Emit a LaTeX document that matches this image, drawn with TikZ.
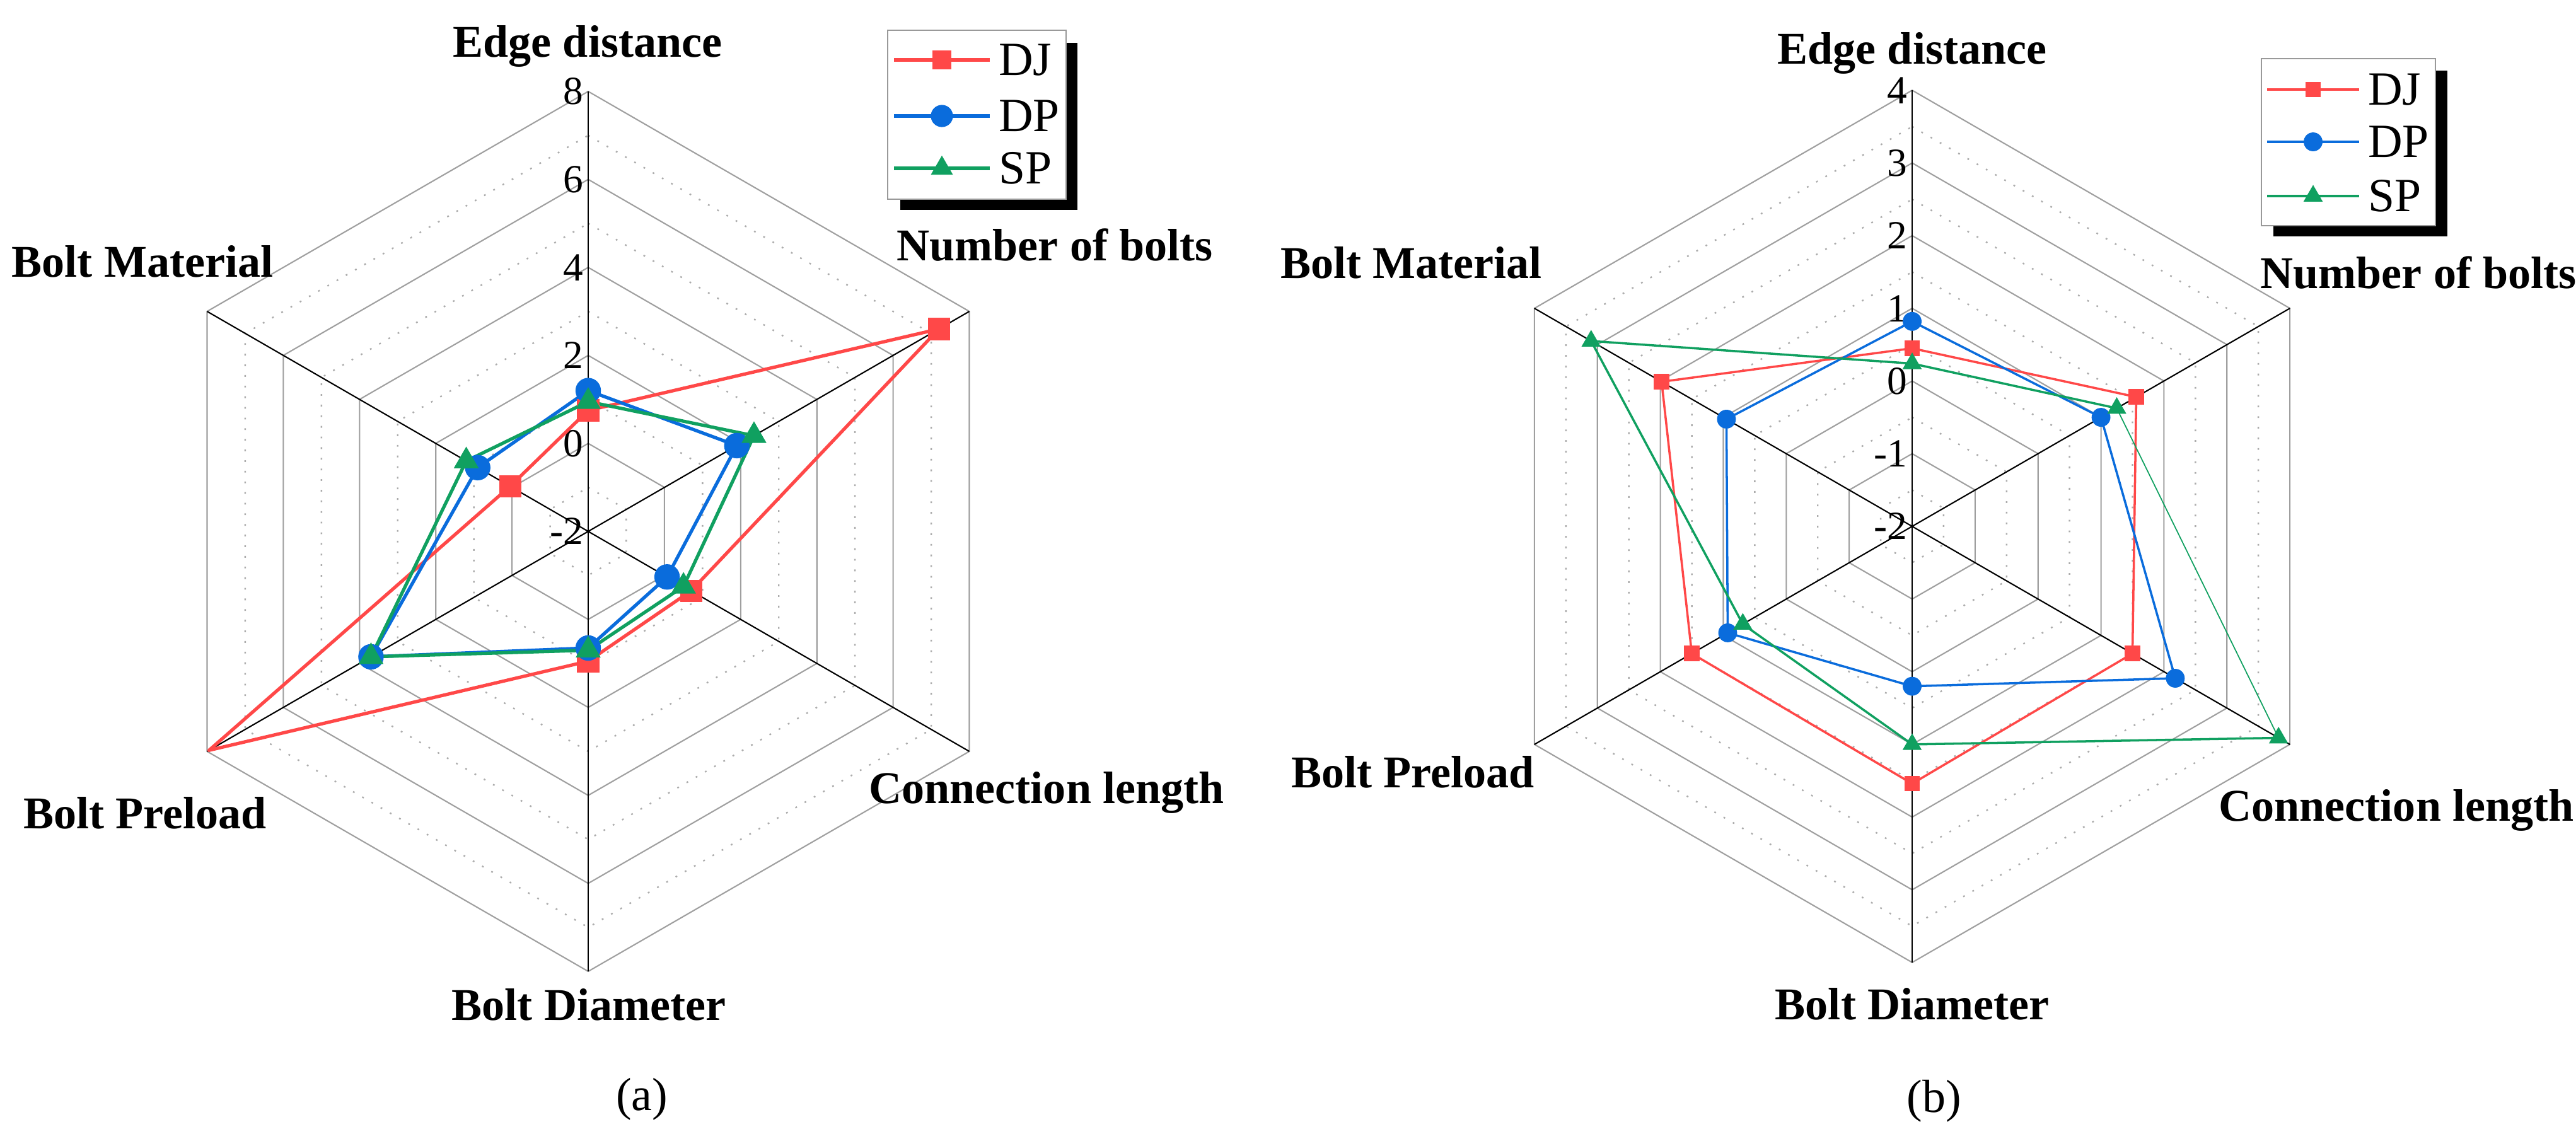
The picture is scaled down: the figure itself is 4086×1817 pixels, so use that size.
\documentclass[tikz,border=0pt]{standalone}
\usepackage{fontspec}
\setmainfont{Liberation Serif}
\usetikzlibrary{shapes.geometric}
\definecolor{cDJ}{RGB}{255,72,72}
\definecolor{cDP}{RGB}{10,108,220}
\definecolor{cSP}{RGB}{16,160,96}
\newcommand\mkpts[8]{%
  \coordinate (#1-1) at (90:{(#3+2)*#2});
  \coordinate (#1-2) at (30:{(#4+2)*#2});
  \coordinate (#1-3) at (-30:{(#5+2)*#2});
  \coordinate (#1-4) at (-90:{(#6+2)*#2});
  \coordinate (#1-5) at (210:{(#7+2)*#2});
  \coordinate (#1-6) at (150:{(#8+2)*#2});}
\newcommand\mkmarks[3][1,...,6]{\foreach \k in {#1}{\node[#3, name=#2m\k] at (#2-\k) {};}}
\newcommand\hexring[2]{\draw[#2] (90:#1)--(30:#1)--(-30:#1)--(-90:#1)--(210:#1)--(150:#1)--cycle;}
\tikzset{
  x=0.01cm,y=0.01cm,
  solidring/.style={gray!75, line width=0.6pt},
  dotring/.style={gray!65, line width=0.7pt, dash pattern=on 0.8pt off 4pt},
  spoke/.style={black, line width=0.6pt},
  axlab/.style={font=\fontsize{20.5}{22}\selectfont\bfseries},
  tick/.style={font=\fontsize{18}{20}\selectfont, anchor=east, inner sep=1pt},
  ldj/.style={cDJ, line width=#1, line join=round},
  ldp/.style={cDP, line width=#1, line join=round},
  lsp/.style={cSP, line width=#1, line join=round},
  mdj/.style={fill=cDJ, draw=none, rectangle, minimum size=#1, inner sep=0pt},
  mdp/.style={fill=cDP, draw=none, circle, minimum size=#1, inner sep=0pt},
  msp/.style={fill=cSP, draw=none, regular polygon, regular polygon sides=3, minimum size=#1, inner sep=0pt},
  legtxt/.style={font=\fontsize{21.5}{24}\selectfont, anchor=west, inner sep=1pt},
}
\begin{document}
\begin{tikzpicture}
\useasboundingbox (0,0) rectangle (4086,-1817);
% ================= (a) =================
\begin{scope}[shift={(933,-843)}]
\def\u{69.8}
\foreach \k in {1,...,10}{
  \pgfmathsetmacro\rr{\k*\u}
  \ifodd\k \hexring{\rr}{dotring}\else\hexring{\rr}{solidring}\fi}
\foreach \a in {90,30,-30,-90,210,150}{\draw[spoke] (0,0)--(\a:698);}
\foreach \v in {-2,0,2,4,6,8}{\node[tick] at (-4,{(\v+2)*\u}) {\v};}
\mkpts{aDJ}{\u}{0.75}{7.2}{0.7}{0.95}{7.95}{0.05}
\mkpts{aDP}{\u}{1.2}{1.9}{0.07}{0.65}{3.7}{0.9}
\mkpts{aSP}{\u}{0.95}{2.35}{0.5}{0.7}{3.7}{1.2}
\draw[ldj=1.5pt] (aDJ-1)--(aDJ-2)--(aDJ-3)--(aDJ-4)--(aDJ-5)--(aDJ-6)--cycle;
\draw[ldp=1.5pt] (aDP-1)--(aDP-2)--(aDP-3)--(aDP-4)--(aDP-5)--(aDP-6)--cycle;
\draw[lsp=1.5pt] (aSP-1)--(aSP-2)--(aSP-3)--(aSP-4)--(aSP-5)--(aSP-6)--cycle;
\mkmarks[1,2,3,4,6]{aDJ}{mdj=10pt}
\mkmarks{aDP}{mdp=11.5pt}
\mkmarks{aSP}{msp=13pt}
\end{scope}
\node[axlab] (aE) at (932,-73) {Edge distance};
\node[axlab] (aN) at (1673,-389) {Number of bolts};
\node[axlab] (aC) at (1660,-1257) {Connection length};
\node[axlab] (aD) at (934,-1594) {Bolt Diameter};
\node[axlab] (aP) at (230,-1290) {Bolt Preload};
\node[axlab] (aM) at (226,-415) {Bolt Material};
\node[font=\fontsize{21}{23}\selectfont] (capa) at (1018,-1744) {(a)};
% legend (a)
\fill[black] (1428,-68) rectangle (1709,-333);
\draw[fill=white, draw=gray!80, line width=0.6pt] (1408,-48) rectangle (1691,-316);
\coordinate (la1) at (1418,-95); \coordinate (la2) at (1570,-95);
\coordinate (la3) at (1418,-184); \coordinate (la4) at (1570,-184);
\coordinate (la5) at (1418,-267); \coordinate (la6) at (1570,-267);
\draw[ldj=1.5pt] (la1)--(la2); \node[mdj=8.5pt] (lam1) at (1494,-95) {};
\draw[ldp=1.5pt] (la3)--(la4); \node[mdp=10pt] (lam2) at (1494,-184) {};
\draw[lsp=1.5pt] (la5)--(la6); \node[msp=11.5pt] (lam3) at (1494,-267) {};
\node[legtxt] (lat1) at (1580,-95) {DJ};
\node[legtxt] (lat2) at (1580,-184) {DP};
\node[legtxt] (lat3) at (1580,-267) {SP};
% ================= (b) =================
\begin{scope}[shift={(3033,-835)}]
\def\u{115.3}
\foreach \k in {1,...,12}{
  \pgfmathsetmacro\rr{\k*\u/2}
  \ifodd\k \hexring{\rr}{dotring}\else\hexring{\rr}{solidring}\fi}
\foreach \a in {90,30,-30,-90,210,150}{\draw[spoke] (0,0)--(\a:692);}
\foreach \v in {-2,-1,0,1,2,3,4}{\node[tick] at (-4,{(\v+2)*\u}) {\v};}
\mkpts{bDJ}{\u}{0.45}{1.56}{1.5}{1.54}{1.5}{1.98}
\mkpts{bDP}{\u}{0.82}{1.0}{2.18}{0.2}{0.93}{0.95}
\mkpts{bSP}{\u}{0.24}{1.25}{3.82}{1.0}{0.69}{3.1}
\draw[ldj=1pt] (bDJ-1)--(bDJ-2)--(bDJ-3)--(bDJ-4)--(bDJ-5)--(bDJ-6)--cycle;
\draw[ldp=1pt] (bDP-1)--(bDP-2)--(bDP-3)--(bDP-4)--(bDP-5)--(bDP-6)--cycle;
\draw[lsp=1pt] (bSP-3)--(bSP-4)--(bSP-5)--(bSP-6)--(bSP-1)--(bSP-2);
\draw[lsp=0.5pt] (bSP-2)--(bSP-3);
\mkmarks{bDJ}{mdj=7pt}
\mkmarks{bDP}{mdp=8.5pt}
\mkmarks{bSP}{msp=10pt}
\end{scope}
\node[axlab] (bE) at (3033,-84) {Edge distance};
\node[axlab] (bN) at (3836,-433) {Number of bolts};
\node[axlab] (bC) at (3801,-1285) {Connection length};
\node[axlab] (bD) at (3033,-1593) {Bolt Diameter};
\node[axlab, anchor=east] (bP) at (2446,-1225) {Bolt Preload};
\node[axlab, anchor=east] (bM) at (2458,-417) {Bolt Material};
\node[font=\fontsize{21}{23}\selectfont] (capb) at (3068,-1747) {(b)};
% legend (b)
\fill[black] (3606,-112) rectangle (3882,-375);
\draw[fill=white, draw=gray!80, line width=0.6pt] (3587,-93) rectangle (3863,-358);
\coordinate (lb1) at (3596,-142); \coordinate (lb2) at (3742,-142);
\coordinate (lb3) at (3596,-225); \coordinate (lb4) at (3742,-225);
\coordinate (lb5) at (3596,-311); \coordinate (lb6) at (3742,-311);
\draw[ldj=1pt] (lb1)--(lb2); \node[mdj=7pt] (lbm1) at (3669,-142) {};
\draw[ldp=1pt] (lb3)--(lb4); \node[mdp=8.5pt] (lbm2) at (3669,-225) {};
\draw[lsp=1pt] (lb5)--(lb6); \node[msp=10pt] (lbm3) at (3669,-311) {};
\node[legtxt] (lbt1) at (3752,-142) {DJ};
\node[legtxt] (lbt2) at (3752,-225) {DP};
\node[legtxt] (lbt3) at (3752,-311) {SP};
\end{tikzpicture}
\end{document}
